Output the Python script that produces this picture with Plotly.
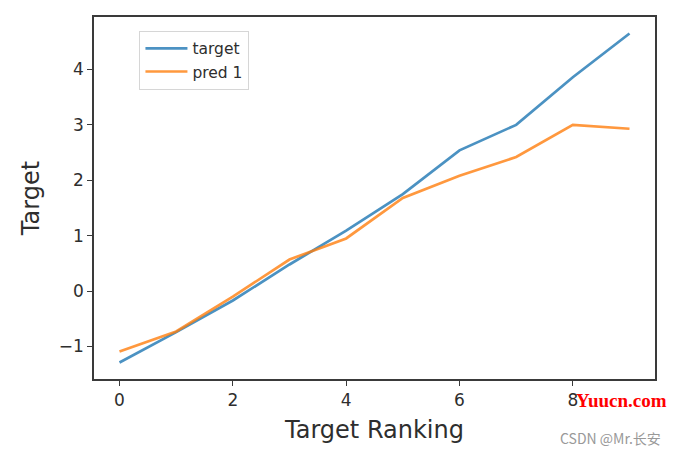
import plotly.graph_objects as go

x_rank = [0, 1, 2, 3, 4, 5, 6, 7, 8, 9]
target = [-1.29, -0.74, -0.17, 0.48, 1.09, 1.75, 2.54, 3.0, 3.86, 4.65]
pred_1 = [-1.09, -0.73, -0.10, 0.57, 0.95, 1.68, 2.08, 2.42, 3.0, 2.93]
x_ticks = [0, 2, 4, 6, 8]
y_ticks = [-1, 0, 1, 2, 3, 4]

def padded(vals, frac=0.05):
    lo, hi = min(vals), max(vals)
    d = (hi - lo) * frac
    return [lo - d, hi + d]

font = "DejaVu Sans"
axis_col = "#3a3a3a"
txt_col = "#2e2e2e"

fig = go.Figure()
fig.add_trace(go.Scatter(x=x_rank, y=target, mode="lines", name="target",
                         line=dict(color="#1f77b4", width=2.7), opacity=0.8))
fig.add_trace(go.Scatter(x=x_rank, y=pred_1, mode="lines", name="pred 1",
                         line=dict(color="#ff7f0e", width=2.7), opacity=0.8))

fig.update_layout(
    width=679, height=455,
    margin=dict(l=94, r=24, t=17, b=76),
    paper_bgcolor="white", plot_bgcolor="white",
    font=dict(family=font, color=txt_col),
    showlegend=True,
    legend=dict(x=0.081, y=0.962, xanchor="left", yanchor="top",
                bgcolor="rgba(255,255,255,0.8)", bordercolor="#d6d6d6", borderwidth=1,
                font=dict(size=15.5, color=txt_col), tracegroupgap=0,
                itemwidth=42),
)
fig.update_xaxes(
    range=padded(x_rank), tickvals=x_ticks, showgrid=False, zeroline=False,
    showline=True, linecolor=axis_col, linewidth=1.5, mirror=True,
    ticks="outside", ticklen=5, tickwidth=1.2, tickcolor=axis_col,
    tickfont=dict(size=17, family=font, color=txt_col),
    title=dict(text="Target Ranking", font=dict(size=24, family=font, color=txt_col), standoff=12),
)
fig.update_yaxes(
    range=padded(target + pred_1), tickvals=y_ticks, showgrid=False, zeroline=False,
    showline=True, linecolor=axis_col, linewidth=1.5, mirror=True,
    ticks="outside", ticklen=5, tickwidth=1.2, tickcolor=axis_col,
    tickfont=dict(size=17, family=font, color=txt_col),
    title=dict(text="Target", font=dict(size=24, family=font, color=txt_col), standoff=12),
)

fig.add_annotation(text="<b>Yuucn.com</b>", xref="paper", yref="paper", x=1.025, y=-0.06,
                   xanchor="right", yanchor="middle", showarrow=False,
                   font=dict(family="Liberation Serif", size=19, color="#ff0000"))
fig.add_annotation(text="CSDN @Mr.长安", xref="paper", yref="paper", x=1.015, y=-0.163,
                   xanchor="right", yanchor="middle", showarrow=False,
                   font=dict(family="Noto Sans CJK SC", size=14, color="#999999"))

fig.write_html("out.html")
